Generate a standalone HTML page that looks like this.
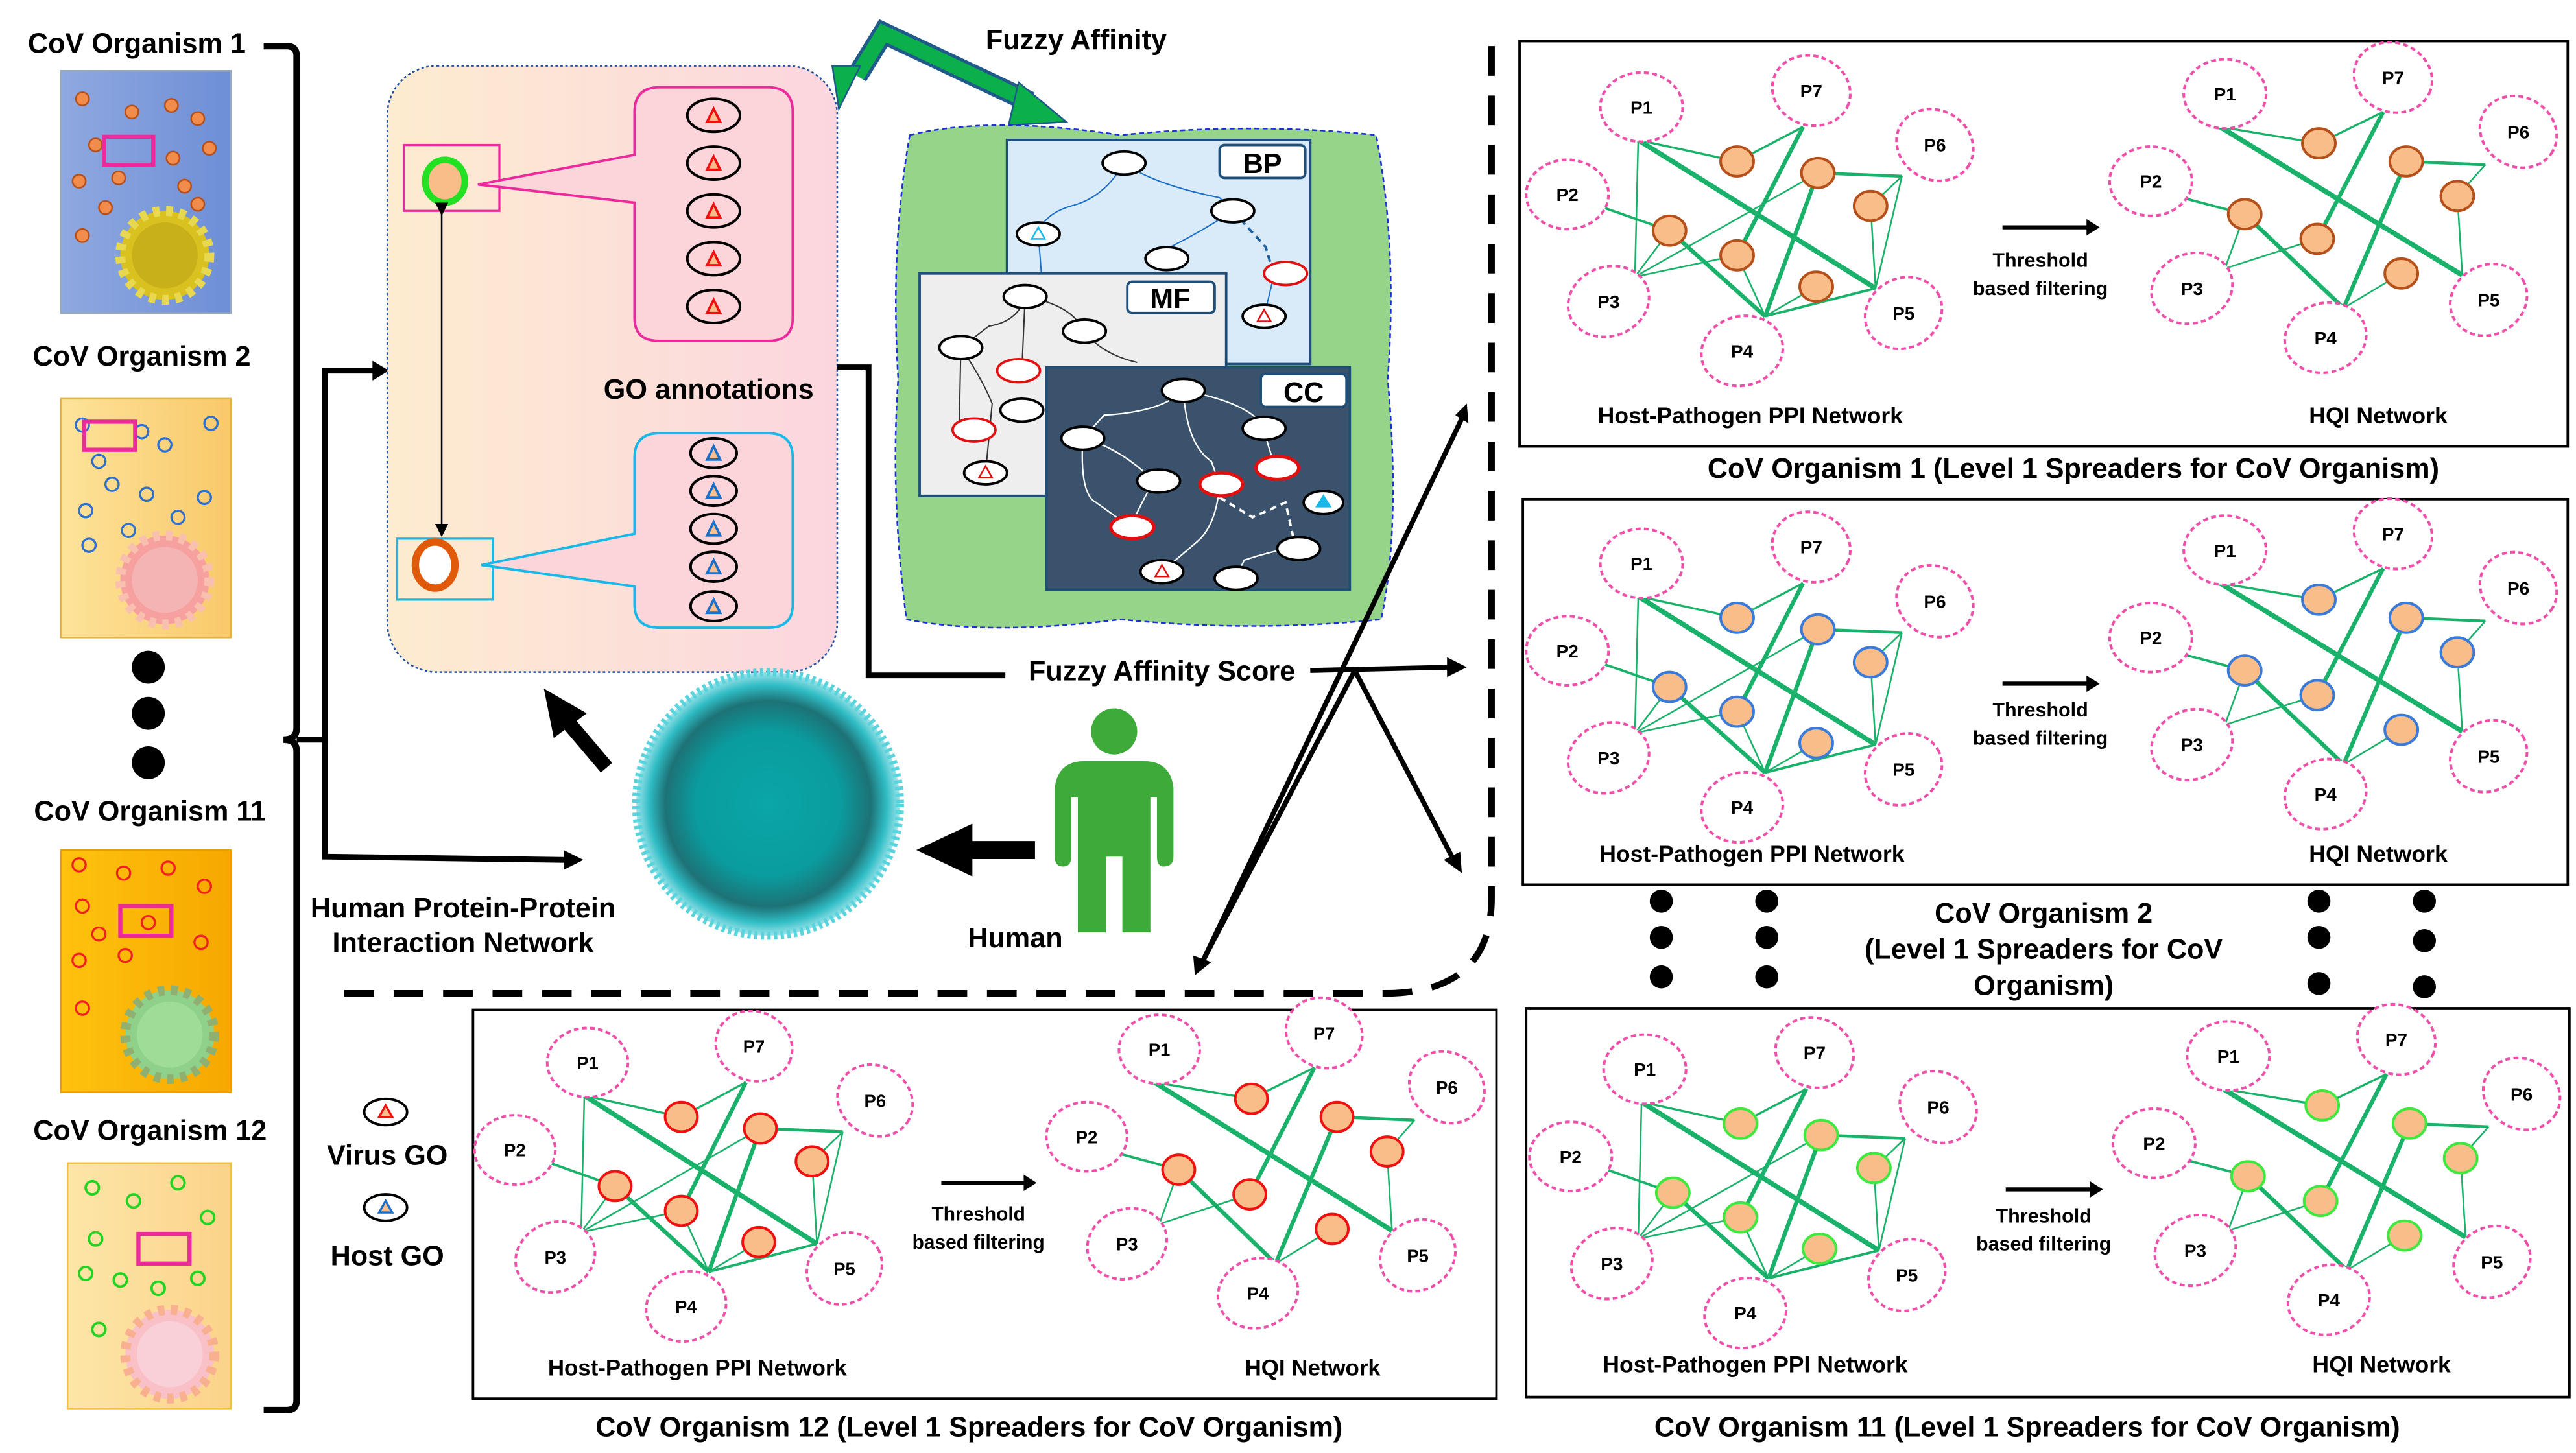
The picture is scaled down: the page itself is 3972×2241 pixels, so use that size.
<!DOCTYPE html>
<html><head><meta charset="utf-8"><style>
html,body{margin:0;padding:0;background:#fff}
svg{display:block}
text{font-family:"Liberation Sans",sans-serif;font-weight:bold;fill:#000}
.pl{font-size:11px;text-anchor:middle}
.cap{font-size:17px;text-anchor:middle}
.lab{font-size:14px;text-anchor:middle}
.th{font-size:12px;text-anchor:middle}
</style></head><body>
<svg width="3972" height="2241" viewBox="0 0 1563 882" preserveAspectRatio="none" xmlns="http://www.w3.org/2000/svg">
<defs>
<linearGradient id="gobox" x1="0" x2="1"><stop offset="0" stop-color="#fdecd0"/><stop offset="1" stop-color="#fcd6df"/></linearGradient>
<linearGradient id="v1" x1="0" x2="1"><stop offset="0" stop-color="#8fa8e0"/><stop offset="1" stop-color="#6e8fd6"/></linearGradient>
<linearGradient id="v2" x1="0" x2="1"><stop offset="0" stop-color="#fde39a"/><stop offset="1" stop-color="#f9c96a"/></linearGradient>
<linearGradient id="v3" x1="0" x2="1"><stop offset="0" stop-color="#ffc20e"/><stop offset="1" stop-color="#f6a800"/></linearGradient>
<linearGradient id="v4" x1="0" x2="1"><stop offset="0" stop-color="#fde6a8"/><stop offset="1" stop-color="#fbd38a"/></linearGradient>
<radialGradient id="blob"><stop offset="0" stop-color="#0aa6a8"/><stop offset="0.55" stop-color="#0a9c9e"/><stop offset="0.78" stop-color="#1d7276"/><stop offset="0.9" stop-color="#2fbcc4"/><stop offset="1" stop-color="#9fe4ea"/></radialGradient>
<marker id="ahs" markerWidth="8" markerHeight="8" refX="7" refY="4" orient="auto" markerUnits="userSpaceOnUse"><path d="M0,0 L8,4 L0,8z" fill="#000"/></marker>
<g id="netL">
 <g stroke="#1ab26b" fill="none">
  <path d="M72,60 L132,73 L172,52" stroke-width="1.3"/>
  <path d="M72,60 L216,150" stroke-width="3"/>
  <path d="M72,60 L70,143" stroke-width="1"/>
  <path d="M48,100 L91,115" stroke-width="1.5"/>
  <path d="M91,115 L149,167" stroke-width="2.5"/>
  <path d="M91,115 L70,143" stroke-width="1"/>
  <path d="M70,143 L181,80" stroke-width="1"/>
  <path d="M70,143 L132,130" stroke-width="1"/>
  <path d="M181,80 L149,167" stroke-width="2.5"/>
  <path d="M172,52 L132,130" stroke-width="2.5"/>
  <path d="M132,130 L149,167" stroke-width="1"/>
  <path d="M181,80 L232,82" stroke-width="1.8"/>
  <path d="M232,82 L213,100 L216,150" stroke-width="1"/>
  <path d="M232,82 L216,150" stroke-width="1"/>
  <path d="M149,167 L180,149" stroke-width="1"/>
  <path d="M149,167 L216,150" stroke-width="1.5"/>
 </g>
 <g fill="#fff" stroke="#ee4fa8" stroke-width="1.6" stroke-dasharray="3,2">
  <ellipse cx="74" cy="40" rx="25" ry="21"/><ellipse cx="177" cy="30" rx="24" ry="21" transform="rotate(20 177 30)"/>
  <ellipse cx="252" cy="63" rx="24" ry="21" transform="rotate(30 252 63)"/><ellipse cx="29" cy="93" rx="25" ry="21"/>
  <ellipse cx="54" cy="158" rx="25" ry="21" transform="rotate(-20 54 158)"/><ellipse cx="135" cy="188" rx="25" ry="21" transform="rotate(-15 135 188)"/>
  <ellipse cx="233" cy="165" rx="24" ry="21" transform="rotate(-30 233 165)"/>
 </g>
 <g fill="#f9bd8a" stroke="currentColor" stroke-width="1.6">
  <ellipse cx="132" cy="73" rx="10" ry="9"/><ellipse cx="181" cy="80" rx="10" ry="9"/><ellipse cx="213" cy="100" rx="10" ry="9"/>
  <ellipse cx="91" cy="115" rx="10" ry="9"/><ellipse cx="132" cy="130" rx="10" ry="9"/><ellipse cx="180" cy="149" rx="10" ry="9"/>
 </g>
</g>
<g id="netR">
 <g stroke="#1ab26b" fill="none">
  <path d="M425,52 L485,62 L524,43" stroke-width="1.3"/>
  <path d="M425,52 L572,142" stroke-width="3"/>
  <path d="M402,95 L440,105" stroke-width="1.5"/>
  <path d="M440,105 L500,162" stroke-width="2.5"/>
  <path d="M440,105 L428,138" stroke-width="1"/>
  <path d="M428,138 L484,120" stroke-width="1"/>
  <path d="M484,120 L524,43" stroke-width="2.5"/>
  <path d="M538,73 L500,162" stroke-width="2.5"/>
  <path d="M538,73 L586,75" stroke-width="1.8"/>
  <path d="M586,75 L569,94 L572,142" stroke-width="1"/>
  <path d="M500,162 L535,141" stroke-width="1"/>
 </g>
 <g fill="#fff" stroke="#ee4fa8" stroke-width="1.6" stroke-dasharray="3,2">
  <ellipse cx="428" cy="32" rx="25" ry="21"/><ellipse cx="530" cy="22" rx="24" ry="21" transform="rotate(20 530 22)"/>
  <ellipse cx="606" cy="55" rx="24" ry="21" transform="rotate(30 606 55)"/><ellipse cx="383" cy="85" rx="25" ry="21"/>
  <ellipse cx="408" cy="150" rx="25" ry="21" transform="rotate(-20 408 150)"/><ellipse cx="489" cy="180" rx="25" ry="21" transform="rotate(-15 489 180)"/>
  <ellipse cx="588" cy="157" rx="24" ry="21" transform="rotate(-30 588 157)"/>
 </g>
 <g fill="#f9bd8a" stroke="currentColor" stroke-width="1.6">
  <ellipse cx="485" cy="62" rx="10" ry="9"/><ellipse cx="538" cy="73" rx="10" ry="9"/><ellipse cx="569" cy="94" rx="10" ry="9"/>
  <ellipse cx="440" cy="105" rx="10" ry="9"/><ellipse cx="484" cy="120" rx="10" ry="9"/><ellipse cx="535" cy="141" rx="10" ry="9"/>
 </g>
 <path d="M293,113 L346,113" stroke="#000" stroke-width="2.5"/><path d="M344,108 L352,113 L344,118z" fill="#000"/>
</g>
</defs>

<!-- Left column -->
<text x="83" y="32" class="cap">CoV Organism 1</text>
<rect x="37" y="43" width="103" height="147" fill="url(#v1)" stroke="#9ab" />
<g fill="#f28c4a" stroke="#b5501a" stroke-width="1"><circle cx="50" cy="60" r="4"/><circle cx="80" cy="68" r="4"/><circle cx="104" cy="64" r="4"/><circle cx="120" cy="72" r="4"/><circle cx="58" cy="88" r="4"/><circle cx="105" cy="96" r="4"/><circle cx="127" cy="90" r="4"/><circle cx="48" cy="110" r="4"/><circle cx="72" cy="108" r="4"/><circle cx="112" cy="113" r="4"/><circle cx="120" cy="124" r="4"/><circle cx="64" cy="126" r="4"/><circle cx="50" cy="143" r="4"/></g>
<rect x="63" y="83" width="30" height="17" fill="none" stroke="#ec2a9c" stroke-width="2.5"/>
<circle cx="100" cy="155" r="27" fill="#d9c220" stroke="#e8d850" stroke-width="6" stroke-dasharray="4,4"/><circle cx="100" cy="155" r="20" fill="#c8b01a"/>
<text x="86" y="222" class="cap">CoV Organism 2</text>
<rect x="37" y="242" width="103" height="145" fill="url(#v2)" stroke="#e8b040"/>
<g fill="none" stroke="#2e6fcf" stroke-width="1.3"><circle cx="50" cy="258" r="4"/><circle cx="86" cy="262" r="4"/><circle cx="128" cy="257" r="4"/><circle cx="60" cy="280" r="4"/><circle cx="100" cy="270" r="4"/><circle cx="68" cy="294" r="4"/><circle cx="89" cy="300" r="4"/><circle cx="124" cy="302" r="4"/><circle cx="52" cy="310" r="4"/><circle cx="108" cy="314" r="4"/><circle cx="54" cy="331" r="4"/><circle cx="78" cy="322" r="4"/></g>
<rect x="51" y="256" width="31" height="17" fill="none" stroke="#ec2a9c" stroke-width="2.5"/>
<circle cx="100" cy="352" r="27" fill="#f7a0a0" stroke="#f9c0b0" stroke-width="6" stroke-dasharray="4,4"/><circle cx="100" cy="352" r="20" fill="#f4b4b4"/>
<circle cx="90" cy="405" r="10"/><circle cx="90" cy="433" r="10"/><circle cx="90" cy="463" r="10"/>
<text x="91" y="498" class="cap">CoV Organism 11</text>
<rect x="37" y="516" width="103" height="147" fill="url(#v3)" stroke="#e8a000"/>
<g fill="none" stroke="#f02020" stroke-width="1.3"><circle cx="48" cy="525" r="4"/><circle cx="75" cy="530" r="4"/><circle cx="102" cy="527" r="4"/><circle cx="124" cy="538" r="4"/><circle cx="50" cy="550" r="4"/><circle cx="60" cy="567" r="4"/><circle cx="122" cy="572" r="4"/><circle cx="48" cy="583" r="4"/><circle cx="76" cy="580" r="4"/><circle cx="50" cy="612" r="4"/><circle cx="90" cy="560" r="4"/></g>
<rect x="73" y="550" width="31" height="18" fill="none" stroke="#ec2a9c" stroke-width="2.5"/>
<circle cx="103" cy="628" r="27" fill="#8fd08a" stroke="#8fb070" stroke-width="6" stroke-dasharray="4,4"/><circle cx="103" cy="628" r="20" fill="#9edc98"/>
<text x="91" y="692" class="cap">CoV Organism 12</text>
<rect x="41" y="706" width="99" height="149" fill="url(#v4)" stroke="#f0c040"/>
<g fill="none" stroke="#22d322" stroke-width="1.5"><circle cx="56" cy="721" r="4"/><circle cx="81" cy="729" r="4"/><circle cx="108" cy="718" r="4"/><circle cx="126" cy="739" r="4"/><circle cx="58" cy="752" r="4"/><circle cx="52" cy="773" r="4"/><circle cx="73" cy="777" r="4"/><circle cx="96" cy="782" r="4"/><circle cx="120" cy="776" r="4"/><circle cx="60" cy="807" r="4"/></g>
<rect x="84" y="749" width="31" height="18" fill="none" stroke="#ec2a9c" stroke-width="2.5"/>
<circle cx="103" cy="822" r="27" fill="#f9c0c8" stroke="#f8b090" stroke-width="6" stroke-dasharray="4,4"/><circle cx="103" cy="822" r="20" fill="#fad0d8"/>

<!-- brace -->
<path d="M160,28 L174,28 Q180,28 180,34 L180,442 Q180,449 172,449 Q180,449 180,456 L180,850 Q180,856 174,856 L160,856" fill="none" stroke="#000" stroke-width="4"/>
<path d="M180,449 L197,449 L197,225 L228,225" fill="none" stroke="#000" stroke-width="3.5"/><path d="M226,219 L236,225 L226,231z"/>
<path d="M197,449 L197,520 L344,522" fill="none" stroke="#000" stroke-width="3.5"/><path d="M342,516 L354,522 L342,528z"/>

<!-- GO box -->
<rect x="235" y="40" width="273" height="368" rx="30" fill="url(#gobox)" stroke="#2050a0" stroke-width="1" stroke-dasharray="1.5,1.5"/>
<rect x="245" y="88" width="58" height="40" fill="none" stroke="#ec2a9c" stroke-width="1.3"/>
<ellipse cx="270" cy="110" rx="12" ry="13" fill="#f9bd8a" stroke="#22e022" stroke-width="4"/>
<path d="M385,68 Q385,53 400,53 L466,53 Q481,53 481,68 L481,193 Q481,207 466,207 L400,207 Q385,207 385,193 L385,123 L290,112 L385,94 Z" fill="#fcd5da" stroke="#ec2a9c" stroke-width="1.5"/>
<rect x="241" y="327" width="58" height="37" fill="none" stroke="#18b8e8" stroke-width="1.3"/>
<ellipse cx="264" cy="343" rx="12" ry="14" fill="#fff" stroke="#e05a0a" stroke-width="4.5"/>
<path d="M385,278 Q385,263 400,263 L466,263 Q481,263 481,278 L481,367 Q481,381 466,381 L400,381 Q385,381 385,367 L385,356 L292,343 L385,324 Z" fill="#fcd5da" stroke="#18b8e8" stroke-width="1.5"/>
<g stroke="#000" stroke-width="1.6" fill="#fcd5da">
<ellipse cx="433" cy="70" rx="16" ry="10"/><ellipse cx="433" cy="99" rx="16" ry="10"/><ellipse cx="433" cy="128" rx="16" ry="10"/><ellipse cx="433" cy="157" rx="16" ry="10"/><ellipse cx="433" cy="186" rx="16" ry="10"/>
<ellipse cx="433" cy="275" rx="14" ry="9"/><ellipse cx="433" cy="298" rx="14" ry="9"/><ellipse cx="433" cy="321" rx="14" ry="9"/><ellipse cx="433" cy="344" rx="14" ry="9"/><ellipse cx="433" cy="368" rx="14" ry="9"/>
</g>
<g fill="#f9bd8a" stroke="#f01010" stroke-width="1.5"><path d="M433,66 L437,74 L429,74z"/><path d="M433,95 L437,103 L429,103z"/><path d="M433,124 L437,132 L429,132z"/><path d="M433,153 L437,161 L429,161z"/><path d="M433,182 L437,190 L429,190z"/></g>
<g fill="#f9bd8a" stroke="#1a6fc8" stroke-width="1.5"><path d="M433,271 L437,279 L429,279z"/><path d="M433,294 L437,302 L429,302z"/><path d="M433,317 L437,325 L429,325z"/><path d="M433,340 L437,348 L429,348z"/><path d="M433,364 L437,372 L429,372z"/></g>
<path d="M268,130 L268,325" stroke="#000" stroke-width="1" marker-start="url(#ahs)" marker-end="url(#ahs)"/>
<text x="430" y="242" class="cap">GO annotations</text>

<!-- Fuzzy affinity arrow -->
<path d="M520,46 L536,20 L625,62" fill="none" stroke="#1f5a8a" stroke-width="13" stroke-linejoin="miter"/>
<path d="M520,46 L536,20 L625,62" fill="none" stroke="#0bb04a" stroke-width="9"/>
<path d="M505,40 L522,40 L509,66z" fill="#0bb04a" stroke="#1f5a8a"/>
<path d="M618,50 L647,74 L612,76z" fill="#0bb04a" stroke="#1f5a8a"/>
<text x="653" y="30" class="cap">Fuzzy Affinity</text>

<!-- GO DAG cloud -->
<path d="M552,82 Q600,70 680,82 Q760,74 835,82 Q848,150 842,230 Q850,320 838,376 Q760,384 680,376 Q600,386 550,376 Q540,300 545,230 Q540,150 552,82Z" fill="#96d48a" stroke="#1c2fd8" stroke-width="1" stroke-dasharray="3,2"/>
<rect x="611" y="85" width="184" height="136" fill="#d9ebf8" stroke="#1f4e79" stroke-width="1.5"/>
<rect x="740" y="88" width="52" height="20" rx="3" fill="#fff" stroke="#1f4e79" stroke-width="1.5"/><text x="766" y="105" class="cap">BP</text>
<g fill="none" stroke="#1a6fc8" stroke-width="0.8"><path d="M682,99 Q670,120 650,125 Q633,130 630,142 L632,168"/><path d="M682,99 Q700,112 740,120 L748,128"/><path d="M748,128 Q730,140 710,150 L708,157"/><path d="M773,167 L767,192"/></g>
<path d="M748,128 L768,150 L773,167" fill="none" stroke="#1a5c9a" stroke-dasharray="4,3" stroke-width="1.5"/>
<g stroke="#000" stroke-width="1.5" fill="#fff"><ellipse cx="682" cy="99" rx="13" ry="7"/><ellipse cx="748" cy="128" rx="13" ry="7"/><ellipse cx="630" cy="142" rx="13" ry="7"/><ellipse cx="708" cy="157" rx="13" ry="7"/></g>
<ellipse cx="780" cy="166" rx="13" ry="7" fill="#fff" stroke="#e01010" stroke-width="1.5"/><ellipse cx="767" cy="192" rx="13" ry="7" fill="#fff" stroke="#000" stroke-width="1.5"/>
<rect x="558" y="166" width="186" height="135" fill="#eeeeee" stroke="#1f4e79" stroke-width="1.5"/>
<rect x="684" y="171" width="53" height="19" rx="3" fill="#fff" stroke="#1f4e79" stroke-width="1.5"/><text x="710" y="187" class="cap">MF</text>
<g fill="none" stroke="#333" stroke-width="0.8"><path d="M622,180 Q618,195 600,198 L583,211"/><path d="M622,180 L620,225"/><path d="M622,180 Q650,185 657,200 Q668,215 690,220"/><path d="M583,211 L582,260"/><path d="M583,211 Q596,230 602,245 L598,287"/></g>
<g stroke="#000" stroke-width="1.5" fill="#fff"><ellipse cx="622" cy="180" rx="13" ry="7"/><ellipse cx="658" cy="201" rx="13" ry="7"/><ellipse cx="583" cy="211" rx="13" ry="7"/><ellipse cx="620" cy="249" rx="13" ry="7"/><ellipse cx="598" cy="287" rx="13" ry="7"/></g>
<ellipse cx="618" cy="225" rx="13" ry="7" fill="#fff" stroke="#e01010" stroke-width="1.5"/><ellipse cx="591" cy="261" rx="13" ry="7" fill="#fff" stroke="#e01010" stroke-width="1.5"/>
<rect x="635" y="223" width="184" height="135" fill="#3a526c" stroke="#1f4e79" stroke-width="1.5"/>
<rect x="765" y="227" width="52" height="20" rx="3" fill="#fff" stroke="#1f4e79" stroke-width="1.5"/><text x="791" y="244" class="cap">CC</text>
<g fill="none" stroke="#fff" stroke-width="0.9"><path d="M718,237 Q705,250 670,252 L657,266"/><path d="M718,237 Q720,270 735,280 L740,294"/><path d="M718,237 Q760,245 767,260"/><path d="M657,266 Q655,300 665,305 L686,320"/><path d="M657,266 Q680,272 700,292"/><path d="M700,292 Q690,310 686,320"/><path d="M740,294 Q738,320 725,330 L705,347"/><path d="M767,260 Q770,275 775,284"/><path d="M786,332 Q770,335 755,340 L750,350"/></g>
<path d="M740,302 L760,314 L780,305 L786,332" fill="none" stroke="#fff" stroke-dasharray="4,3" stroke-width="1.5"/>
<g stroke="#000" stroke-width="1.5" fill="#fff"><ellipse cx="718" cy="237" rx="13" ry="7"/><ellipse cx="767" cy="260" rx="13" ry="7"/><ellipse cx="657" cy="266" rx="13" ry="7"/><ellipse cx="703" cy="292" rx="13" ry="7"/><ellipse cx="788" cy="333" rx="13" ry="7"/><ellipse cx="705" cy="347" rx="13" ry="7"/><ellipse cx="750" cy="351" rx="13" ry="7"/><ellipse cx="803" cy="305" rx="12" ry="7"/></g>
<g fill="#fff" stroke="#e01010" stroke-width="2"><ellipse cx="741" cy="294" rx="13" ry="7"/><ellipse cx="775" cy="284" rx="13" ry="7"/><ellipse cx="687" cy="320" rx="13" ry="7"/></g>
<path d="M803,300 L808,308 L798,308z" fill="#18b8e8"/><path d="M705,343 L709,350 L701,350z" fill="#fff" stroke="#e01010"/><path d="M767,188 L771,195 L763,195z" fill="#fff" stroke="#e01010"/><path d="M598,283 L602,290 L594,290z" fill="#fff" stroke="#e01010"/><path d="M630,138 L634,145 L626,145z" fill="#fff" stroke="#18b8e8"/>

<!-- Fuzzy affinity score connectors -->
<path d="M508,223 L527,223 L527,410 L610,410" fill="none" stroke="#000" stroke-width="3.5"/>
<text x="705" y="413" class="cap">Fuzzy Affinity Score</text>
<g stroke="#000" stroke-width="3" fill="none">
<path d="M795,407 L880,405"/><path d="M822,407 L882,522"/><path d="M822,407 L730,583"/><path d="M730,583 L887,254"/>
</g>
<path d="M878,399 L890,405 L878,411z"/><path d="M876,522 L887,530 L886,517z"/><path d="M724,580 L725,592 L735,584z"/><path d="M883,252 L890,245 L891,257z"/>
<path d="M905,28 L905,545 Q905,603 840,603 L200,603" fill="none" stroke="#000" stroke-width="4" stroke-dasharray="18,12"/>

<!-- Human PPI network -->
<circle cx="466" cy="488" r="80" fill="url(#blob)" stroke="#5ad4dc" stroke-width="5" stroke-dasharray="2,2"/>
<path d="M628,516 L585,516" stroke="#000" stroke-width="11"/><path d="M590,500 L556,516 L590,532z"/>
<path d="M368,466 L340,433" stroke="#000" stroke-width="9"/><path d="M330,418 L356,433 L336,448z"/>
<g fill="#3daa3a"><circle cx="676" cy="444" r="14"/><path d="M658,462 L694,462 Q710,462 712,478 L712,520 Q712,526 706,526 Q702,526 702,520 L702,484 L698,484 L698,566 L681,566 L681,520 L671,520 L671,566 L654,566 L654,484 L650,484 L650,520 Q650,526 645,526 Q640,526 640,520 L640,478 Q642,462 658,462Z"/></g>
<text x="616" y="575" class="cap">Human</text>
<text x="281" y="557" class="cap">Human Protein-Protein</text>
<text x="281" y="578" class="cap">Interaction Network</text>

<!-- legend -->
<ellipse cx="234" cy="675" rx="13" ry="8" fill="#fff" stroke="#000" stroke-width="1.5"/><path d="M234,671 L238,678 L230,678z" fill="#f9bd8a" stroke="#f01010" stroke-width="1.3"/>
<text x="235" y="707" class="cap">Virus GO</text>
<ellipse cx="234" cy="733" rx="13" ry="8" fill="#fff" stroke="#000" stroke-width="1.5"/><path d="M234,729 L238,736 L230,736z" fill="#f9bd8a" stroke="#1a6fc8" stroke-width="1.3"/>
<text x="235" y="768" class="cap">Host GO</text>

<!-- Panel 1 -->
<rect x="922" y="25" width="636" height="246" fill="#fff" stroke="#000" stroke-width="1.5"/>
<g transform="translate(922,25)" style="color:#b5501a">
<use href="#netL"/><use href="#netR"/>
<text x="74" y="44" class="pl">P1</text><text x="177" y="34" class="pl">P7</text><text x="252" y="67" class="pl">P6</text><text x="29" y="97" class="pl">P2</text><text x="54" y="162" class="pl">P3</text><text x="135" y="192" class="pl">P4</text><text x="233" y="169" class="pl">P5</text>
<text x="428" y="36" class="pl">P1</text><text x="530" y="26" class="pl">P7</text><text x="606" y="59" class="pl">P6</text><text x="383" y="89" class="pl">P2</text><text x="408" y="154" class="pl">P3</text><text x="489" y="184" class="pl">P4</text><text x="588" y="161" class="pl">P5</text>
<text x="316" y="137" class="th">Threshold</text><text x="316" y="154" class="th">based filtering</text>
<text x="140" y="232" class="lab">Host-Pathogen PPI Network</text><text x="521" y="232" class="lab">HQI Network</text>
</g>
<text x="1258" y="290" class="cap">CoV Organism 1 (Level 1 Spreaders for CoV Organism)</text>

<!-- Panel 2 -->
<rect x="924" y="303" width="634" height="234" fill="#fff" stroke="#000" stroke-width="1.5"/>
<g transform="translate(922,302)" style="color:#3a7ad8">
<use href="#netL"/><use href="#netR"/>
<text x="74" y="44" class="pl">P1</text><text x="177" y="34" class="pl">P7</text><text x="252" y="67" class="pl">P6</text><text x="29" y="97" class="pl">P2</text><text x="54" y="162" class="pl">P3</text><text x="135" y="192" class="pl">P4</text><text x="233" y="169" class="pl">P5</text>
<text x="428" y="36" class="pl">P1</text><text x="530" y="26" class="pl">P7</text><text x="606" y="59" class="pl">P6</text><text x="383" y="89" class="pl">P2</text><text x="408" y="154" class="pl">P3</text><text x="489" y="184" class="pl">P4</text><text x="588" y="161" class="pl">P5</text>
<text x="316" y="133" class="th">Threshold</text><text x="316" y="150" class="th">based filtering</text>
<text x="141" y="221" class="lab">Host-Pathogen PPI Network</text><text x="521" y="221" class="lab">HQI Network</text>
</g>

<!-- middle dots and text -->
<g><circle cx="1008" cy="547" r="7"/><circle cx="1008" cy="569" r="7"/><circle cx="1008" cy="593" r="7"/><circle cx="1072" cy="547" r="7"/><circle cx="1072" cy="569" r="7"/><circle cx="1072" cy="593" r="7"/><circle cx="1407" cy="547" r="7"/><circle cx="1407" cy="569" r="7"/><circle cx="1407" cy="597" r="7"/><circle cx="1471" cy="547" r="7"/><circle cx="1471" cy="571" r="7"/><circle cx="1471" cy="599" r="7"/></g>
<text x="1240" y="560" class="cap">CoV Organism 2</text><text x="1240" y="582" class="cap">(Level 1 Spreaders for CoV</text><text x="1240" y="604" class="cap">Organism)</text>

<!-- Panel 11 -->
<rect x="926" y="612" width="633" height="236" fill="#fff" stroke="#000" stroke-width="1.5"/>
<g transform="translate(924,609)" style="color:#3ee83e">
<use href="#netL"/><use href="#netR"/>
<text x="74" y="44" class="pl">P1</text><text x="177" y="34" class="pl">P7</text><text x="252" y="67" class="pl">P6</text><text x="29" y="97" class="pl">P2</text><text x="54" y="162" class="pl">P3</text><text x="135" y="192" class="pl">P4</text><text x="233" y="169" class="pl">P5</text>
<text x="428" y="36" class="pl">P1</text><text x="530" y="26" class="pl">P7</text><text x="606" y="59" class="pl">P6</text><text x="383" y="89" class="pl">P2</text><text x="408" y="154" class="pl">P3</text><text x="489" y="184" class="pl">P4</text><text x="588" y="161" class="pl">P5</text>
<text x="316" y="133" class="th">Threshold</text><text x="316" y="150" class="th">based filtering</text>
<text x="141" y="224" class="lab">Host-Pathogen PPI Network</text><text x="521" y="224" class="lab">HQI Network</text>
</g>
<text x="1230" y="872" class="cap">CoV Organism 11 (Level 1 Spreaders for CoV Organism)</text>

<!-- Panel 12 -->
<rect x="287" y="613" width="621" height="236" fill="#fff" stroke="#000" stroke-width="1.5"/>
<g transform="translate(284,605) scale(0.98,1)" style="color:#f01010">
<use href="#netL"/><use href="#netR"/>
<text x="74" y="44" class="pl">P1</text><text x="177" y="34" class="pl">P7</text><text x="252" y="67" class="pl">P6</text><text x="29" y="97" class="pl">P2</text><text x="54" y="162" class="pl">P3</text><text x="135" y="192" class="pl">P4</text><text x="233" y="169" class="pl">P5</text>
<text x="428" y="36" class="pl">P1</text><text x="530" y="26" class="pl">P7</text><text x="606" y="59" class="pl">P6</text><text x="383" y="89" class="pl">P2</text><text x="408" y="154" class="pl">P3</text><text x="489" y="184" class="pl">P4</text><text x="588" y="161" class="pl">P5</text>
<text x="316" y="136" class="th">Threshold</text><text x="316" y="153" class="th">based filtering</text>
<text x="142" y="230" class="lab">Host-Pathogen PPI Network</text><text x="523" y="230" class="lab">HQI Network</text>
</g>
<text x="588" y="872" class="cap">CoV Organism 12 (Level 1 Spreaders for CoV Organism)</text>
</svg>
</body></html>
